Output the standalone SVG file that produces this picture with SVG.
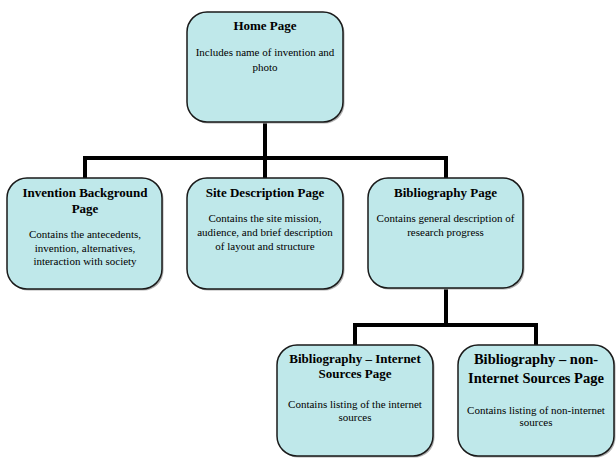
<svg xmlns="http://www.w3.org/2000/svg" width="616" height="460" viewBox="0 0 616 460">
<style>
.box{fill:#BFE8EA;stroke:#1a1a1a;stroke-width:1.5}
.sh{fill:#b0b0b0}
.t{font-family:"Liberation Serif","Times New Roman",serif;font-weight:bold;font-size:13px;fill:#000;text-anchor:middle}
.b{font-family:"Liberation Serif","Times New Roman",serif;font-size:11px;fill:#000;text-anchor:middle}
.c{fill:none;stroke:#000;stroke-width:4}
</style>
<g id="connectors">
<path class="c" d="M265 122 V158 M85 178 V158 H446 V178 M265 158 V178"/>
<path class="c" d="M446 288 V325 M355 345 V325 H536 V345"/>
</g>
<g id="home">
<rect class="sh" x="188.5" y="13.5" width="156" height="110" rx="20"/>
<rect class="box" x="187" y="12" width="156" height="110" rx="20"/>
<text class="t" x="265" y="30">Home Page</text>
<text class="b" x="265" y="56">Includes name of invention and</text>
<text class="b" x="265" y="71">photo</text>
</g>
<g id="invention">
<rect class="sh" x="8.5" y="179.5" width="155" height="111" rx="20"/>
<rect class="box" x="7" y="178" width="155" height="111" rx="20"/>
<text class="t" x="85" y="197">Invention Background</text>
<text class="t" x="85" y="213">Page</text>
<text class="b" x="85" y="238">Contains the antecedents,</text>
<text class="b" x="85" y="252">invention, alternatives,</text>
<text class="b" x="85" y="265">interaction with society</text>
</g>
<g id="site">
<rect class="sh" x="188.5" y="179.5" width="156" height="111" rx="20"/>
<rect class="box" x="187" y="178" width="156" height="111" rx="20"/>
<text class="t" x="265" y="197">Site Description Page</text>
<text class="b" x="265" y="222">Contains the site mission,</text>
<text class="b" x="265" y="236">audience, and brief description</text>
<text class="b" x="265" y="250">of layout and structure</text>
</g>
<g id="bibliography">
<rect class="sh" x="369.5" y="179.5" width="155" height="110" rx="20"/>
<rect class="box" x="368" y="178" width="155" height="110" rx="20"/>
<text class="t" x="445.5" y="197">Bibliography Page</text>
<text class="b" x="445.5" y="222">Contains general description of</text>
<text class="b" x="445.5" y="236">research progress</text>
</g>
<g id="internet">
<rect class="sh" x="278.5" y="346.5" width="156" height="111" rx="20"/>
<rect class="box" x="277" y="345" width="156" height="111" rx="20"/>
<text class="t" x="355" y="363">Bibliography – Internet</text>
<text class="t" x="355" y="378">Sources Page</text>
<text class="b" x="355" y="408">Contains listing of the internet</text>
<text class="b" x="355" y="421">sources</text>
</g>
<g id="noninternet">
<rect class="sh" x="459.5" y="346.5" width="156" height="111" rx="20"/>
<rect class="box" x="458" y="345" width="156" height="111" rx="20"/>
<text class="t" x="536" y="364" style="font-size:14.5px">Bibliography – non-</text>
<text class="t" x="536" y="383" style="font-size:14.5px">Internet Sources Page</text>
<text class="b" x="536" y="414">Contains listing of non-internet</text>
<text class="b" x="536" y="426">sources</text>
</g>
</svg>
